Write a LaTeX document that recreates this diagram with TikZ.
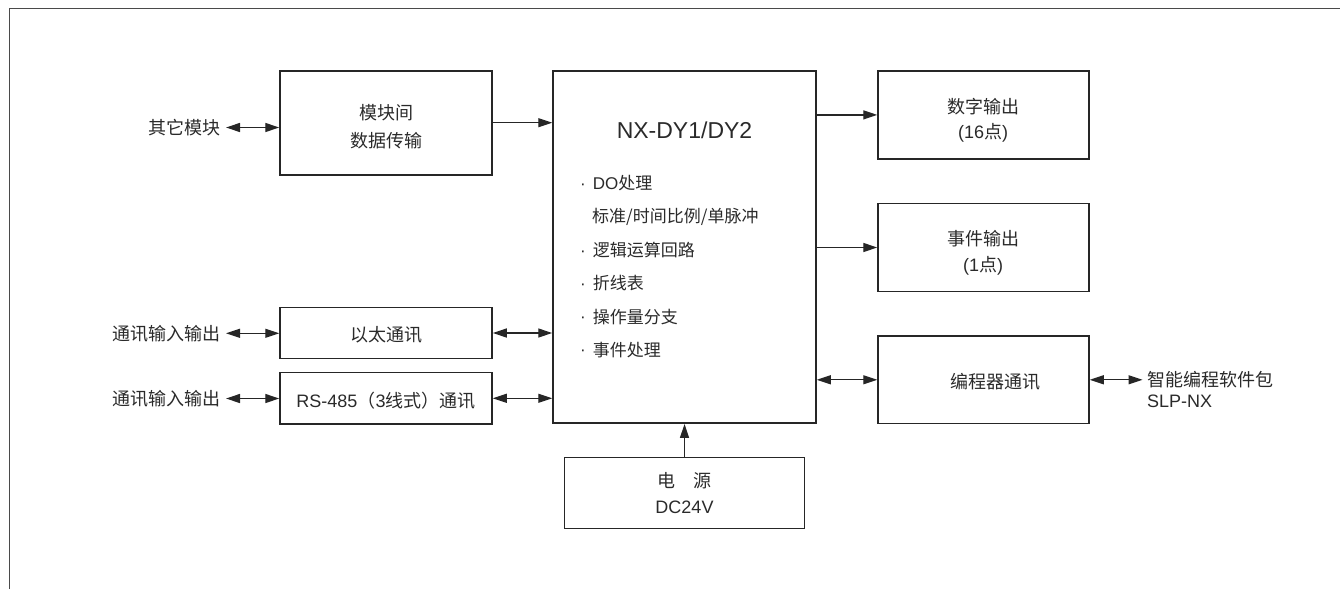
\documentclass[tikz,border=0pt]{standalone}
\usepackage{fontspec}
\setmainfont{Liberation Sans}
\newfontfamily\cjk{Noto Sans CJK SC}
\usetikzlibrary{arrows.meta,calc}
\definecolor{ink}{HTML}{262626}
\definecolor{txt}{HTML}{2A2A2A}
\definecolor{frame}{HTML}{4A4A4A}
\newcommand{\bul}{\makebox[12.7pt][l]{\raisebox{0.5pt}{·}}}
\tikzset{
  boxnode/.style={draw=ink,line width=1.5pt,inner sep=0pt,rectangle},
  lbl/.style={text=txt,inner sep=0pt,font=\fontsize{18}{22}\selectfont},
  itemtxt/.style={text=txt,inner sep=0pt,anchor=west,font=\fontsize{17}{20}\selectfont},
  conn/.style={draw=ink,line width=1.3pt,-{Triangle[length=14pt,width=9pt]}},
  biconn/.style={draw=ink,line width=1.3pt,{Triangle[length=14pt,width=9pt]}-{Triangle[length=14pt,width=9pt]}}
}
\begin{document}
\begin{tikzpicture}[x=1pt,y=-1pt]
\useasboundingbox (0,0) rectangle (1340,589);
% frame
\draw[frame,line width=1.3pt] (9.5,589) -- (9.5,8.7) -- (1340,8.7);
% boxes
\node[boxnode,minimum width=212pt,minimum height=104pt] (mod) at (386,123) {};
\node[boxnode,minimum width=263pt,minimum height=352pt] (main) at (684.5,247.2) {};
\node[boxnode,minimum width=211pt,minimum height=88pt] (dout) at (983.5,114.9) {};
\node[boxnode,minimum width=211pt,minimum height=88pt] (eout) at (983.5,247.5) {};
\node[boxnode,minimum width=211pt,minimum height=87.5pt] (prog) at (983.5,379.8) {};
\node[boxnode,minimum width=212pt,minimum height=51.4pt] (eth) at (386,333) {};
\node[boxnode,minimum width=212pt,minimum height=51.3pt] (rs) at (386,398.3) {};
\node[boxnode,minimum width=240.4pt,minimum height=71pt] (pwr) at (684.5,492.8) {};
% box texts
\node[lbl] (modA) at (386,112.8) {\cjk 模块间};
\node[lbl] (modB) at (386,140.8) {\cjk 数据传输};
\node[lbl] (doutA) at (983,106.7) {\cjk 数字输出};
\node[lbl] (doutB) at (983,133.3) {(16{\cjk 点})};
\node[lbl] (eoutA) at (983,238.3) {\cjk 事件输出};
\node[lbl] (eoutB) at (983,265.7) {(1{\cjk 点})};
\node[lbl] (progT) at (995,381.5) {\cjk 编程器通讯};
\node[lbl] (ethT) at (386,335) {\cjk 以太通讯};
\node[lbl] (rsT) at (386,400.5) {RS-485{\cjk （}3{\cjk 线式）通讯}};
\node[lbl] (pwrA) at (684.5,481) {\cjk 电\hspace{18pt}源};
\node[lbl] (pwrB) at (684.5,507.3) {DC24V};
% main texts
\node[text=txt,inner sep=0pt,font=\fontsize{23}{27}\selectfont] (title) at (684.5,130) {NX-DY1/DY2};
\node[itemtxt] (i1) at (580,183.3) {\bul DO{\cjk 处理}};
\node[itemtxt] (i2) at (592,216.7) {\cjk 标准/时间比例/单脉冲};
\node[itemtxt] (i3) at (580,250.3) {\bul{\cjk 逻辑运算回路}};
\node[itemtxt] (i4) at (580,283.3) {\bul{\cjk 折线表}};
\node[itemtxt] (i5) at (580,316.7) {\bul{\cjk 操作量分支}};
\node[itemtxt] (i6) at (580,350) {\bul{\cjk 事件处理}};
% outer labels
\node[lbl,anchor=east] (other) at (221,127.5) {\cjk 其它模块};
\node[lbl,anchor=east] (io1) at (221,333.3) {\cjk 通讯输入输出};
\node[lbl,anchor=east] (io2) at (221,398.5) {\cjk 通讯输入输出};
\node[lbl,anchor=west] (slpA) at (1147,380) {\cjk 智能编程软件包};
\node[lbl,anchor=west] (slpB) at (1147,401.7) {SLP-NX};
% connectors
\draw[biconn] ([xshift=5pt]other.east) -- (other.east -| mod.west);
\draw[conn] ([yshift=0.3pt]mod.east) -- ([yshift=0.3pt]mod.east -| main.west);
\draw[conn] (dout.west -| main.east) -- (dout.west);
\draw[conn] (eout.west -| main.east) -- (eout.west);
\draw[biconn] (prog.west -| main.east) -- (prog.west);
\draw[biconn] (prog.east) -- ([xshift=-4.5pt]prog.east -| slpA.west);
\draw[biconn] (eth.east) -- (eth.east -| main.west);
\draw[biconn] (rs.east) -- (rs.east -| main.west);
\draw[biconn] ([xshift=5pt]io1.east) -- (io1.east -| eth.west);
\draw[biconn] ([xshift=5pt]io2.east) -- (io2.east -| rs.west);
\draw[conn] (pwr.north) -- (pwr.north |- main.south);
\end{tikzpicture}
\end{document}
